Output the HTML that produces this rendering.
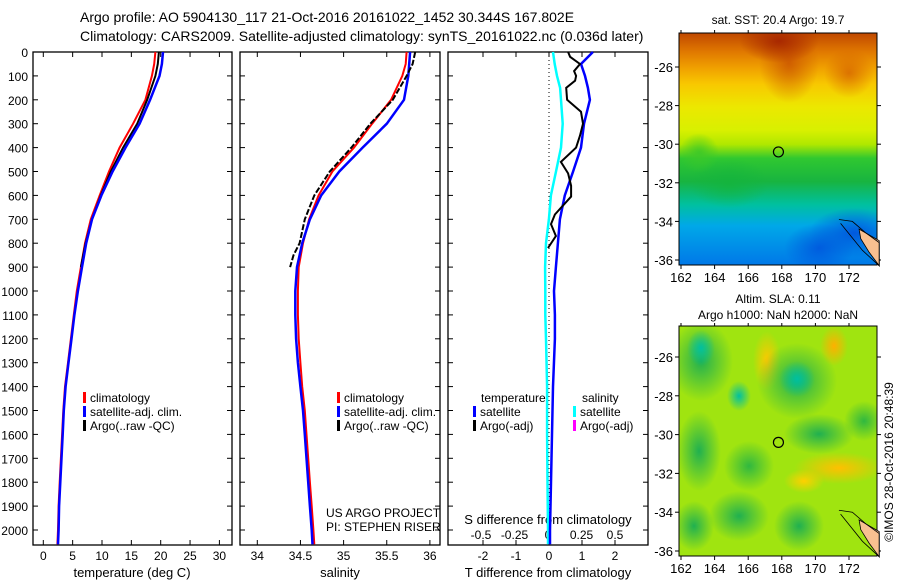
<!DOCTYPE html>
<html><head><meta charset="utf-8"><style>
body{margin:0;background:#fff;}
#wrap{position:relative;width:900px;height:580px;overflow:hidden;font-family:"Liberation Sans",sans-serif;}
svg text{font-family:"Liberation Sans",sans-serif;fill:#000;}
.map{position:absolute;left:679px;width:198px;}
</style></head><body>
<div id="wrap">
<div class="map" style="top:33px;height:232px;background:
radial-gradient(ellipse 40px 22px at 100px 8px,#a82800,rgba(168,40,0,0)),
radial-gradient(ellipse 30px 40px at 110px 30px,rgba(200,80,0,0.8),rgba(200,80,0,0)),
radial-gradient(ellipse 25px 25px at 170px 40px,rgba(210,90,0,0.7),rgba(210,90,0,0)),
radial-gradient(ellipse 20px 20px at 20px 120px,rgba(60,200,40,0.9),rgba(60,200,40,0)),
radial-gradient(ellipse 45px 25px at 175px 200px,rgba(0,80,220,0.9),rgba(0,80,220,0)),
radial-gradient(ellipse 35px 25px at 140px 215px,rgba(0,80,220,0.8),rgba(0,80,220,0)),
radial-gradient(ellipse 40px 25px at 50px 150px,rgba(20,180,60,0.8),rgba(20,180,60,0)),
linear-gradient(to bottom,#c04800 0%,#e07800 8%,#f0a000 15%,#f8c800 22%,#ece800 32%,#d8f000 42%,#b0e800 48%,#30c830 54%,#18b440 64%,#00c0a0 74%,#00a8e8 83%,#0078e8 100%);"></div>
<div class="map" style="top:326px;height:230px;background:
radial-gradient(ellipse 14px 18px at 22px 22px,#00c0a0,rgba(0,180,80,0)),
radial-gradient(ellipse 12px 15px at 60px 70px,#00c0a0,rgba(0,180,80,0)),
radial-gradient(ellipse 18px 18px at 118px 53px,#00c0a0,rgba(0,180,80,0)),
radial-gradient(ellipse 32px 40px at 22px 35px,#20b050,rgba(32,176,80,0)),
radial-gradient(ellipse 40px 38px at 118px 55px,#20b050,rgba(32,176,80,0)),
radial-gradient(ellipse 35px 20px at 140px 108px,#20b050,rgba(32,176,80,0)),
radial-gradient(ellipse 22px 40px at 20px 125px,#20b050,rgba(32,176,80,0)),
radial-gradient(ellipse 30px 25px at 60px 190px,#20b050,rgba(32,176,80,0)),
radial-gradient(ellipse 25px 25px at 120px 200px,#20b050,rgba(32,176,80,0)),
radial-gradient(ellipse 20px 25px at 15px 200px,#20b050,rgba(32,176,80,0)),
radial-gradient(ellipse 25px 25px at 70px 140px,#30b840,rgba(48,184,64,0)),
radial-gradient(ellipse 20px 20px at 185px 95px,#30b840,rgba(48,184,64,0)),
radial-gradient(ellipse 14px 30px at 88px 35px,#ffc800,rgba(255,200,0,0)),
radial-gradient(ellipse 14px 20px at 155px 20px,#ffb000,rgba(255,176,0,0)),
radial-gradient(ellipse 45px 16px at 160px 142px,#ffc000,rgba(255,192,0,0)),
radial-gradient(ellipse 20px 12px at 125px 155px,#ffd000,rgba(255,208,0,0)),
linear-gradient(#a0e410,#a0e410);"></div>
<svg id="fig" width="900" height="580" style="position:absolute;left:0;top:0"></svg>
</div>
<script>
// ---- data ----
const climDepths=[0,50,100,200,300,400,500,600,700,800,900,1000,1100,1200,1300,1400,1500,1600,1700,1800,1900,2000,2060];
const tClim=[19.1,18.9,18.5,17.4,15.3,13.0,11.2,9.6,8.1,7.1,6.4,5.7,5.2,4.7,4.2,3.7,3.4,3.2,3.0,2.8,2.6,2.5,2.4];
const tSat=[20.4,20.2,19.8,18.2,16.4,14.0,11.8,9.9,8.3,7.3,6.6,5.9,5.3,4.8,4.3,3.8,3.5,3.3,3.1,2.9,2.7,2.6,2.5];
const sClim=[35.73,35.72,35.68,35.55,35.33,35.12,34.87,34.71,34.60,34.53,34.48,34.47,34.47,34.48,34.50,34.52,34.55,34.57,34.59,34.61,34.63,34.65,34.66];
const sSat=[35.77,35.76,35.75,35.70,35.50,35.22,34.95,34.74,34.61,34.52,34.46,34.44,34.44,34.45,34.47,34.50,34.53,34.55,34.57,34.59,34.61,34.63,34.64];
const argoDepths=[0,50,100,200,300,400,500,600,700,800,850,900];
const tArgo=[19.7,19.5,19.1,17.7,16.0,13.6,11.5,9.8,8.3,7.2,6.8,6.4];
const sArgo=[35.83,35.80,35.73,35.57,35.31,35.09,34.84,34.66,34.55,34.49,34.42,34.38];
const diffDepths=[0,50,100,150,200,300,400,500,600,700,800,900,1000,1100,1200,1400,1600,1800,2000,2060];
const tDiffSat=[1.33,0.97,1.09,1.18,1.24,1.06,0.97,0.73,0.48,0.33,0.27,0.21,0.15,0.18,0.18,0.12,0.09,0.06,0.03,0.03];
const sDiffSat=[0.037,0.05,0.067,0.09,0.097,0.11,0.097,0.06,0.022,0.007,-0.015,-0.022,-0.02,-0.02,-0.015,-0.007,-0.007,-0.004,0,0];
const argoDiffDepths=[0,20,50,80,100,120,150,200,250,300,350,400,460,508,560,605,680,720,770,820];
const tDiffArgo=[0.58,0.64,0.94,0.76,0.82,0.79,0.52,0.55,0.97,1.03,0.94,0.82,0.36,0.58,0.67,0.67,0.18,0.06,0.21,-0.03];
const depthTicks=[0,100,200,300,400,500,600,700,800,900,1000,1100,1200,1300,1400,1500,1600,1700,1800,1900,2000];
const tTicks=[0,5,10,15,20,25,30];
const sTicks=[34,34.5,35,35.5,36];
const tdTicks=[-2,-1,0,1,2];
const sdTicks=[-0.5,-0.25,0,0.25,0.5];
const sdTickLabels=["-0.5","-0.25","0","0.25","0.5"];
const lonTicks=[162,164,166,168,170,172];
const latTicks=[-26,-28,-30,-32,-34,-36];

// ---- scales ----
const Y=d=>52+d*0.239;
const XT=v=>43.3+v*5.87;
const XS=v=>257.3+(v-34)*86.3;
const XTD=v=>549+v*33;
const XSD=v=>548+v*134;
const LON=v=>681+(v-162)*16.8;
const LAT1=v=>67+(-26-v)*19.3;
const LAT2=v=>357+(-26-v)*19.4;

const svg=document.getElementById('fig');
const NS='http://www.w3.org/2000/svg';
function el(tag,attrs,parent){const e=document.createElementNS(NS,tag);for(const k in attrs)e.setAttribute(k,attrs[k]);(parent||svg).appendChild(e);return e;}
function txt(x,y,s,anchor,size){const t=el('text',{x:x,y:y,'font-size':size||12,'text-anchor':anchor||'start'});t.textContent=s;return t;}
function line(depths,vals,sx,color,w){const pts=depths.map((d,i)=>sx(vals[i]).toFixed(1)+','+Y(d).toFixed(1)).join(' ');return el('polyline',{points:pts,fill:'none',stroke:color,'stroke-width':w});}

let t=txt(80,22,'Argo profile: AO 5904130_117 21-Oct-2016 20161022_1452 30.344S 167.802E','start',14);


t=txt(80,41,'Climatology: CARS2009. Satellite-adjusted climatology: synTS_20161022.nc (0.036d later)','start',14);



const panels=[[33,232],[240,440],[448,648]];
panels.forEach((p,i)=>{
  const r=el('rect',{x:p[0],y:52,width:p[1]-p[0],height:493,fill:'none',stroke:'#000','stroke-width':1.3});
  
  
  depthTicks.forEach(d=>{
    el('line',{x1:p[0],x2:p[0]+5,y1:Y(d),y2:Y(d),stroke:'#000'});
    el('line',{x1:p[1]-5,x2:p[1],y1:Y(d),y2:Y(d),stroke:'#000'});
  });
});
depthTicks.forEach(d=>{
  const tt=txt(28,Y(d)+5,String(d),'end',12);
  
  
});
function xticks(ticks,sx,labels,ly){
  ticks.forEach((v,i)=>{
    const x=sx(v);
    el('line',{x1:x,x2:x,y1:52,y2:57,stroke:'#000'});
    el('line',{x1:x,x2:x,y1:540,y2:545,stroke:'#000'});
    const tt=txt(x,ly,labels?labels[i]:String(v),'middle',12);
    
    
  });
}
xticks(tTicks,XT,null,560);
xticks(sTicks,XS,null,560);
xticks(tdTicks,XTD,null,560);
sdTicks.forEach((v,i)=>{
  const tt=txt(XSD(v),539,sdTickLabels[i],'middle',12);
  
  
});
t=txt(132,577,'temperature (deg C)','middle',13);
t=txt(340,577,'salinity','middle',13);
t=txt(548,577,'T difference from climatology','middle',13);
t=txt(548,524,'S difference from climatology','middle',13);
t=txt(326,517,'US ARGO PROJECT','start',12);
t=txt(326,531,'PI: STEPHEN RISER','start',12);

let s;
s=line(climDepths,tClim,XT,'#f00',2);
s=line(argoDepths,tArgo,XT,'#000',2);
s=line(climDepths,tSat,XT,'#00f',2.5);
s=line(climDepths,sClim,XS,'#f00',2);
s=line(climDepths,sSat,XS,'#00f',2.5);
s=line(argoDepths,sArgo,XS,'#000',2);
s.setAttribute('stroke-dasharray','6,2');
s=el('line',{x1:XTD(0),x2:XTD(0),y1:52,y2:545,stroke:'#000','stroke-dasharray':'1,3'});
s=line(diffDepths,sDiffSat,XSD,'#0ff',2.5);
s=line(diffDepths,tDiffSat,XTD,'#00f',2.5);
s=line(argoDiffDepths,tDiffArgo,XTD,'#000',2);

function legend(x,y,color,label){
  const g=el('g',{});
  
  
  el('rect',{x:x,y:y-10,width:3,height:11,fill:color},g);
  const tt=txt(x+7,y,label,'start',12);g.appendChild(tt);
}
legend(83,402,'#f00','climatology');legend(83,416,'#00f','satellite-adj. clim.');legend(83,430,'#000','Argo(..raw -QC)');
legend(337,402,'#f00','climatology');legend(337,416,'#00f','satellite-adj. clim.');legend(337,430,'#000','Argo(..raw -QC)');
t=txt(481,402,'temperature','start',12);
t=txt(582,402,'salinity','start',12);
legend(473,416,'#00f','satellite');legend(473,430,'#000','Argo(-adj)');
legend(573,416,'#0ff','satellite');legend(573,430,'#f0f','Argo(-adj)');

function mapAxes(top,bottom,LAT,name){
  const r=el('rect',{x:679,y:top,width:198,height:bottom-top,fill:'none',stroke:'#000'});
  
  
  lonTicks.forEach(v=>{
    el('line',{x1:LON(v),x2:LON(v),y1:top-3,y2:top,stroke:'#000'});
    el('line',{x1:LON(v),x2:LON(v),y1:bottom,y2:bottom+4,stroke:'#000'});
    const tt=txt(LON(v),bottom+17,String(v),'middle',13);
    
    
  });
  latTicks.forEach(v=>{
    el('line',{x1:675,x2:679,y1:LAT(v),y2:LAT(v),stroke:'#000'});
    el('line',{x1:877,x2:881,y1:LAT(v),y2:LAT(v),stroke:'#000'});
    const tt=txt(673,LAT(v)+5,String(v),'end',13);
    
    
  });
  const c=el('circle',{cx:LON(167.8),cy:LAT(-30.4),r:5,fill:'none',stroke:'#000','stroke-width':1.2});
  
  
  const land=el('polygon',{points:[[172.6,-34.4],[173.8,-35.0],[173.8,-36.3],[173.2,-35.6],[172.7,-34.9]].map(p=>LON(p[0])+','+LAT(p[1])).join(' '),fill:'#f8c090',stroke:'#000','stroke-width':0.8});
  
  
  const coast=el('polyline',{points:[[171.4,-33.9],[172.2,-34.0],[173.0,-34.6],[173.8,-35.1],[173.8,-36.3],[172.8,-35.5],[171.5,-34.1]].map(p=>LON(p[0])+','+LAT(p[1])).join(' '),fill:'none',stroke:'#000','stroke-width':0.8});
  
  
}
mapAxes(33,265,LAT1,'sst-map');
mapAxes(326,556,LAT2,'sla-map');
t=txt(778,24,'sat. SST: 20.4 Argo: 19.7','middle',12);
t=txt(778,303,'Altim. SLA: 0.11','middle',12);
t=txt(778,319,'Argo h1000: NaN h2000: NaN','middle',12);
t=txt(0,0,'©IMOS 28-Oct-2016 20:48:39','middle',12);
t.setAttribute('transform','translate(893,462) rotate(-90)');

</script>
</body></html>
